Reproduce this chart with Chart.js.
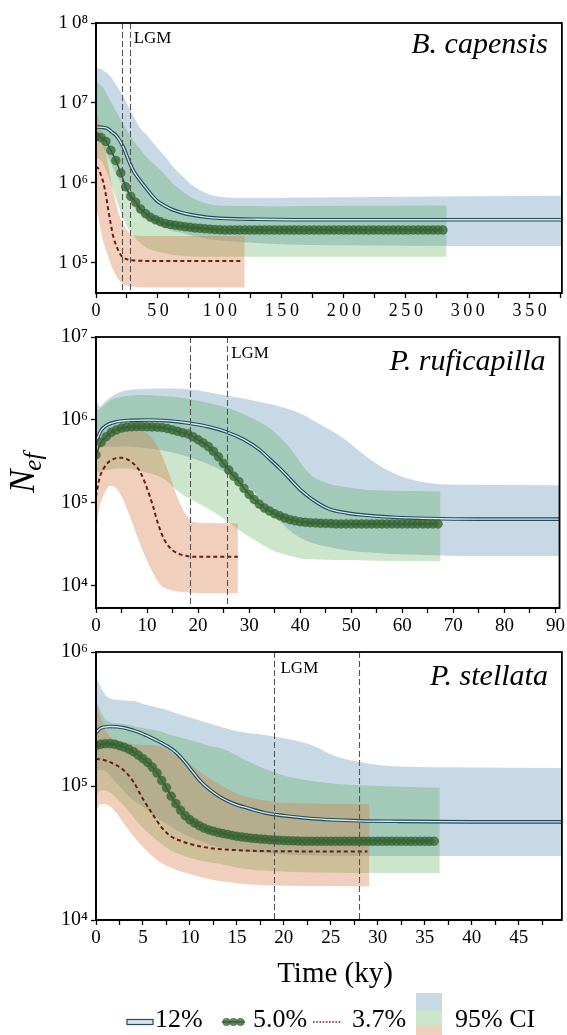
<!DOCTYPE html>
<html><head><meta charset="utf-8">
<script src="https://cdn.jsdelivr.net/npm/chart.js@4.4.1/dist/chart.umd.min.js"></script>
<style>
html,body{margin:0;padding:0;background:#fff;}
#wrap{position:relative;width:567px;height:1035px;overflow:hidden;background:#fff;}
canvas{position:absolute;left:0;top:0;}
</style></head><body>
<div id="wrap">
<canvas id="c1" width="567" height="1035" style="width:567px;height:1035px"></canvas>
<canvas id="c2" width="567" height="1035" style="width:567px;height:1035px"></canvas>
<canvas id="c3" width="567" height="1035" style="width:567px;height:1035px"></canvas>
</div>
<script>
// ---------------- DATA ----------------
// Panel 1: B. capensis (time in ky, Nef)
const p1T12 = [0,5,9,13,17,22,27,31,36,42,49,56,62,70,76,90,100,130,200,376];
const p1V12 = [5.0e6,4.95e6,4.8e6,4.3e6,3.8e6,2.8e6,1.8e6,1.35e6,1.05e6,8.0e5,6.0e5,5.1e5,4.6e5,4.2e5,4.0e5,3.7e5,3.6e5,3.5e5,3.45e5,3.45e5];
const p1T5 = [0,4,8,12,16,20,24,28,32,36,40,44,48,52,56,60,64,68,72,76,80,84,88,92,96,100,104,108,112,116,120,124,128,132,136,140,144,148,152,156,160,164,168,172,176,180,184,188,192,196,200,204,208,212,216,220,224,228,232,236,240,244,248,252,256,260,264,268,272,276,280];
const p1V5 = [3.8e6,3.7e6,3.3e6,2.55e6,1.9e6,1.33e6,8.9e5,6.8e5,5.7e5,4.7e5,4.1e5,3.7e5,3.45e5,3.25e5,3.1e5,3.0e5,2.95e5,2.88e5,2.82e5,2.77e5,2.72e5,2.7e5,2.66e5,2.63e5,2.6e5,2.58e5,
2.57e5,2.57e5,2.57e5,2.57e5,2.57e5,2.57e5,2.57e5,2.57e5,2.57e5,2.57e5,2.57e5,2.57e5,2.57e5,2.57e5,2.57e5,2.57e5,2.57e5,2.57e5,2.57e5,2.57e5,2.57e5,2.57e5,2.57e5,2.57e5,2.57e5,2.57e5,2.57e5,2.57e5,2.57e5,2.57e5,2.57e5,2.57e5,2.57e5,2.57e5,2.57e5,2.57e5,2.57e5,2.57e5,2.57e5,2.57e5,2.57e5,2.57e5,2.57e5,2.57e5,2.57e5];
const p1T37 = [0,2,4,6,8,10,12,14,17,20,24,30,50,117];
const p1V37 = [1.6e6,1.5e6,1.25e6,1.0e6,7.0e5,4.5e5,3.0e5,2.1e5,1.55e5,1.25e5,1.12e5,1.07e5,1.05e5,1.05e5];
const p1BlueT = [0,5,11,16,22,28,35,42,49,56,62,70,76,89,100,120,150,200,300,376];
const p1BlueHi = [2.8e7,2.6e7,2.2e7,1.7e7,1.2e7,8.0e6,5.0e6,3.8e6,2.8e6,2.1e6,1.6e6,1.2e6,9.8e5,7.4e5,6.7e5,6.5e5,6.5e5,6.6e5,6.8e5,6.9e5];
const p1BlueLo = [3.5e6,2.9e6,1.9e6,1.3e6,8.9e5,5.8e5,4.2e5,3.5e5,3.1e5,2.8e5,2.5e5,2.35e5,2.2e5,2.0e5,1.9e5,1.8e5,1.7e5,1.65e5,1.62e5,1.62e5];
const p1GreenT = [0,5,11,16,22,28,35,42,49,56,62,70,76,89,100,150,200,283];
const p1GreenHi = [1.9e7,1.6e7,1.1e7,8.0e6,5.5e6,3.8e6,2.7e6,2.0e6,1.6e6,1.25e6,9.8e5,7.8e5,6.7e5,5.5e5,5.2e5,5.1e5,5.15e5,5.2e5];
const p1GreenLo = [2.1e6,1.8e6,1.1e6,6.5e5,3.6e5,2.4e5,1.8e5,1.5e5,1.38e5,1.3e5,1.25e5,1.22e5,1.2e5,1.19e5,1.19e5,1.19e5,1.19e5,1.19e5];
const p1OrangeT = [0,3,6,9,12,15,18,22,26,30,40,60,120];
const p1OrangeHi = [8.5e6,5.5e6,3.4e6,2.0e6,1.1e6,6.5e5,4.3e5,3.0e5,2.45e5,2.2e5,2.16e5,2.16e5,2.16e5];
const p1OrangeLo = [5.0e5,3.0e5,1.8e5,1.3e5,9.5e4,7.5e4,6.2e4,5.4e4,5.1e4,5.0e4,4.9e4,4.9e4,4.9e4];
const p1Lgm = [21.2, 27.2];

// Panel 2: P. ruficapilla
const p2T12 = [0,1,2,4,7,10,14,18,22,25.5,29,32,34,36,38,40,42.4,45.6,49,52,58.7,65,75,91];
const p2V12 = [5.5e5,7.5e5,8.6e5,9.5e5,9.9e5,1.0e6,9.8e5,9.2e5,8.3e5,7.2e5,5.8e5,4.4e5,3.4e5,2.6e5,1.95e5,1.45e5,1.1e5,8.5e4,7.6e4,7.2e4,6.7e4,6.5e4,6.4e4,6.4e4];
const p2T5 = [0,1,2,3,4,5,6,7,8,9,10,11,12,13,14,15,16,17,18,19,20,21,22,23,24,25,26,27,28,29,30,31,32,33,34,35,36,37,38,39,40,41,42,43,44,45,46,47,48,49,50,51,52,53,54,55,56,57,58,59,60,61,62,63,64,65,66,67];
const p2V5 = [3.8e5,5.4e5,6.3e5,7.1e5,7.6e5,8.0e5,8.2e5,8.3e5,8.35e5,8.35e5,
8.3e5,8.25e5,8.2e5,8.1e5,7.9e5,7.6e5,7.3e5,7.0e5,6.8e5,6.3e5,
5.8e5,5.3e5,4.8e5,4.2e5,3.6e5,3.0e5,2.5e5,2.1e5,1.8e5,1.5e5,
1.27e5,1.1e5,9.7e4,8.7e4,8.0e4,7.4e4,7.0e4,6.6e4,6.3e4,6.1e4,
5.95e4,5.85e4,5.8e4,5.75e4,5.7e4,5.68e4,5.65e4,
5.6e4,5.6e4,5.6e4,5.6e4,5.6e4,5.6e4,5.6e4,5.6e4,5.6e4,5.6e4,5.6e4,5.6e4,5.6e4,5.6e4,5.6e4,5.6e4,5.6e4,5.6e4,5.6e4,5.6e4,5.6e4];
const p2T37 = [0,0.7,1.5,3,5,7,8.6,10,11.2,12.2,13.5,15,17,20,27.8];
const p2V37 = [1.2e5,2.0e5,2.6e5,3.3e5,3.5e5,3.1e5,2.4e5,1.5e5,9.0e4,5.5e4,3.5e4,2.7e4,2.35e4,2.25e4,2.25e4];
const p2BlueT = [0,0.8,1.5,3,5,8,12,18,25,31,36,40,43,46,49,53,57,62,66,72,91];
const p2BlueHi = [1.75e6,1.45e6,1.6e6,1.9e6,2.2e6,2.35e6,2.4e6,2.35e6,2.0e6,1.7e6,1.45e6,1.2e6,9.5e5,7.5e5,5.7e5,3.6e5,2.5e5,1.9e5,1.72e5,1.66e5,1.64e5];
const p2BlueLo = [4.5e5,4.6e5,4.7e5,4.75e5,4.8e5,4.7e5,4.4e5,3.6e5,2.4e5,1.35e5,6.0e4,3.8e4,3.2e4,2.9e4,2.7e4,2.55e4,2.45e4,2.4e4,2.35e4,2.3e4,2.3e4];
const p2GreenT = [0,1,3,6,9,13,17,19,22,25,28,31,34,36,38,40,42,45,49,55,67.5];
const p2GreenHi = [1.3e6,1.4e6,1.75e6,1.95e6,2.0e6,1.95e6,1.85e6,1.75e6,1.6e6,1.44e6,1.25e6,1.02e6,8.0e5,6.2e5,4.6e5,3.1e5,2.2e5,1.75e5,1.55e5,1.42e5,1.38e5];
const p2GreenLo = [2.3e5,2.4e5,2.55e5,2.6e5,2.4e5,2.0e5,1.25e5,1.08e5,8.5e4,6.5e4,4.7e4,3.6e4,2.8e4,2.5e4,2.3e4,2.15e4,2.1e4,2.07e4,2.05e4,2.02e4,2.0e4];
const p2OrangeT = [0,0.7,1.5,2.7,4,5.3,7,9,11,12.5,14.5,16.4,18.4,20.3,27.8];
const p2OrangeHi = [4.4e5,5.5e5,6.5e5,7.6e5,8.3e5,8.7e5,8.5e5,7.7e5,6.0e5,4.3e5,2.1e5,1.0e5,6.3e4,5.8e4,5.7e4];
const p2OrangeLo = [4.5e4,9.0e4,1.25e5,1.6e5,1.5e5,1.1e5,6.0e4,2.8e4,1.5e4,1.05e4,9.0e3,8.5e3,8.3e3,8.2e3,8.2e3];
const p2Lgm = [18.5, 25.7];

// Panel 3: P. stellata
const p3T12 = [0,0.5,1.5,3,4,5,6.4,7.5,8.6,9.5,10.4,11.2,12.1,13.3,14.6,16.3,18,20,22.5,25,28,32,40,49.6];
const p3V12 = [2.5e5,2.7e5,2.78e5,2.72e5,2.6e5,2.45e5,2.2e5,2.0e5,1.76e5,1.5e5,1.25e5,1.07e5,9.4e4,8.2e4,7.4e4,6.8e4,6.3e4,6.0e4,5.75e4,5.6e4,5.5e4,5.45e4,5.4e4,5.4e4];
const p3T5 = [0,0.5,1,1.5,2,2.5,3,3.5,4,4.5,5,5.5,6,6.5,7,7.5,8,8.5,9,9.5,10,10.5,11,11.5,12,12.5,13,13.5,14,14.5,15,15.5,16,16.5,17,17.5,18,18.5,19,19.5,20,20.5,21,21.5,22,22.5,23,23.5,24,24.5,25,25.5,26,26.5,27,27.5,28,28.5,29,29.5,30,30.5,31,31.5,32,32.5,33,33.5,34,34.5,35,35.5,36];
const p3V5 = [2.0e5,2.05e5,2.07e5,2.07e5,2.05e5,2.0e5,1.95e5,1.88e5,1.8e5,1.7e5,
1.6e5,1.5e5,1.38e5,1.25e5,1.1e5,9.7e4,8.4e4,7.4e4,6.6e4,6.0e4,
5.6e4,5.3e4,5.05e4,4.85e4,4.7e4,4.6e4,4.5e4,4.42e4,4.35e4,4.28e4,
4.22e4,4.17e4,4.12e4,4.08e4,4.05e4,4.02e4,4.0e4,3.97e4,3.95e4,3.93e4,
3.92e4,3.9e4,3.9e4,3.88e4,
3.87e4,3.87e4,3.87e4,3.87e4,3.87e4,3.87e4,3.87e4,3.87e4,3.87e4,3.87e4,3.87e4,3.87e4,3.87e4,3.87e4,3.87e4,3.87e4,3.87e4,3.87e4,3.87e4,3.87e4,3.87e4,3.87e4,3.87e4,3.87e4,3.87e4,3.87e4,3.87e4,3.87e4,3.87e4];
const p3T37 = [0,1,2,3,4,5,6,7,8,9,10,12,15,18,22,28.9];
const p3V37 = [1.6e5,1.55e5,1.45e5,1.3e5,1.07e5,8.0e4,6.2e4,4.9e4,4.2e4,3.9e4,3.7e4,3.45e4,3.32e4,3.27e4,3.25e4,3.24e4];
const p3BlueT = [0,0.5,1.1,2.2,4,5,6.5,7.5,9,11,13,14.6,17,19.6,21,23.1,25.6,28.4,31.3,37.3,49.6];
const p3BlueHi = [6.6e5,5.5e5,4.7e5,4.4e5,4.3e5,4.1e5,3.85e5,3.7e5,3.4e5,3.1e5,2.8e5,2.6e5,2.45e5,2.3e5,2.2e5,2.0e5,1.66e5,1.5e5,1.41e5,1.38e5,1.36e5];
const p3BlueLo = [1.3e5,1.32e5,1.28e5,1.05e5,7.8e4,7.0e4,5.8e4,5.2e4,4.5e4,3.9e4,3.5e4,3.35e4,3.2e4,3.1e4,3.05e4,3.03e4,3.0e4,3.0e4,3.0e4,3.0e4,3.0e4];
const p3GreenT = [0,0.5,1.1,2.9,4.5,6.5,8,10,12,13.5,16,18.5,21,24.9,30.2,36.6];
const p3GreenHi = [4.4e5,3.6e5,3.1e5,2.9e5,2.75e5,2.6e5,2.4e5,2.2e5,2.0e5,1.9e5,1.55e5,1.3e5,1.15e5,1.05e5,1.0e5,9.7e4];
const p3GreenLo = [8.5e4,9.3e4,9.2e4,7.2e4,5.3e4,3.9e4,3.3e4,2.9e4,2.7e4,2.6e4,2.4e4,2.32e4,2.28e4,2.25e4,2.24e4,2.24e4];
const p3OrangeT = [0,0.5,1,2,3,4,5,6.5,8,10,12,14,16,18,20,29.1];
const p3OrangeHi = [4.2e5,3.2e5,2.6e5,2.2e5,2.1e5,2.05e5,2.02e5,2.0e5,1.8e5,1.45e5,1.15e5,9.5e4,8.3e4,7.8e4,7.5e4,7.3e4];
const p3OrangeLo = [6.5e4,7.3e4,7.3e4,6.5e4,5.2e4,4.2e4,3.5e4,2.8e4,2.45e4,2.2e4,2.02e4,1.92e4,1.85e4,1.82e4,1.8e4,1.78e4];
const p3Lgm = [19.0, 28.0];

const speciesNames = ['B. capensis', 'P. ruficapilla', 'P. stellata'];
const legendLabels = ['12%', '5.0%', '3.7%', '95% CI'];

// ---------------- STYLE ----------------
const SERIF = '"Liberation Serif", "Times New Roman", serif';
const C_BLUE = 'rgba(72,128,172,0.30)';
const C_GREEN = 'rgba(59,159,59,0.26)';
const C_ORANGE = 'rgba(212,121,64,0.35)';
const C_LINE12_OUT = '#1f4b5a';
const C_LINE12_IN = '#d8e7ef';
const C_DOT_FILL = 'rgba(56,102,53,0.80)';
const C_DOT_EDGE = 'rgba(40,80,40,0.45)';
const C_DASH = '#6e1c17';
const SUP = {'3':'³','4':'⁴','5':'⁵','6':'⁶','7':'⁷','8':'⁸'};

const pts = (t, v) => t.map((x, i) => ({x: x, y: v[i]}));

function band(t, lo, hi, color, order) {
  return [
    {data: pts(t, lo), borderWidth: 0, pointRadius: 0, fill: false, order: order, cubicInterpolationMode: 'monotone'},
    {data: pts(t, hi), borderWidth: 0, pointRadius: 0, fill: '-1', backgroundColor: color, order: order, cubicInterpolationMode: 'monotone'}
  ];
}
function dbl(t, v) {
  return [
    {data: pts(t, v), borderColor: C_LINE12_OUT, borderWidth: 3.6, pointRadius: 0, fill: false, order: 31, cubicInterpolationMode: 'monotone'},
    {data: pts(t, v), borderColor: C_LINE12_IN, borderWidth: 1.3, pointRadius: 0, fill: false, order: 30, cubicInterpolationMode: 'monotone'}
  ];
}
function dots(t, v) {
  return {data: pts(t, v), borderColor: '#2d5a2d', borderWidth: 1.5, pointRadius: 4.5,
    pointBackgroundColor: C_DOT_FILL, pointBorderColor: C_DOT_EDGE, pointBorderWidth: 0.6,
    fill: false, order: 20, tension: 0.2};
}
function dash(t, v) {
  return {data: pts(t, v), borderColor: C_DASH, borderWidth: 2, borderDash: [4, 3], pointRadius: 0,
    fill: false, order: 10, cubicInterpolationMode: 'monotone'};
}

const deco = {
  id: 'deco',
  afterDatasetsDraw(chart, args, o) {
    const ctx = chart.ctx, a = chart.chartArea, x = chart.scales.x;
    ctx.save();
    ctx.beginPath(); ctx.rect(a.left, a.top, a.right - a.left, a.bottom - a.top); ctx.clip();
    ctx.strokeStyle = '#555'; ctx.lineWidth = 1.1; ctx.setLineDash([6, 3]);
    o.lgm.forEach(t => {
      const px = Math.round(x.getPixelForValue(t)) + 0.5;
      ctx.beginPath(); ctx.moveTo(px, a.top); ctx.lineTo(px, a.bottom); ctx.stroke();
    });
    ctx.setLineDash([]);
    ctx.fillStyle = '#000';
    ctx.font = '17px ' + SERIF; ctx.textAlign = 'left'; ctx.textBaseline = 'alphabetic';
    ctx.fillText('LGM', x.getPixelForValue(o.lgm[o.lgmIdx]) + o.lgmDx, a.top + o.lgmDy);
    ctx.font = 'italic 30px ' + SERIF; ctx.textAlign = 'right';
    ctx.fillText(o.species, a.right - 14, a.top + o.spDy);
    ctx.restore();
    ctx.save();
    ctx.strokeStyle = '#000'; ctx.lineWidth = 1.8;
    ctx.strokeRect(a.left, a.top, a.right - a.left, a.bottom - a.top);
    ctx.restore();
  }
};

const page = {
  id: 'page',
  afterDraw(chart) {
    const ctx = chart.ctx;
    ctx.save();
    ctx.fillStyle = '#000'; ctx.textBaseline = 'alphabetic';
    // x-axis title
    ctx.font = '29px ' + SERIF; ctx.textAlign = 'center';
    ctx.fillText('Time (ky)', 335, 982);
    // y-axis title N_ef
    ctx.save();
    ctx.translate(34, 493); ctx.rotate(-Math.PI / 2);
    ctx.textAlign = 'left';
    ctx.font = 'italic 35px ' + SERIF;
    ctx.fillText('N', 0, 0);
    const nw = ctx.measureText('N').width;
    ctx.font = 'italic 25px ' + SERIF;
    ctx.fillText('ef', nw - 1, 7);
    ctx.restore();
    // legend symbols
    const ly = 1022;
    ctx.fillStyle = C_LINE12_IN; ctx.strokeStyle = C_LINE12_OUT; ctx.lineWidth = 1.2;
    ctx.fillRect(127, ly - 2.5, 26, 5); ctx.strokeRect(127, ly - 2.5, 26, 5);
    ctx.strokeStyle = '#2d5a2d'; ctx.lineWidth = 1.5;
    ctx.beginPath(); ctx.moveTo(222, ly); ctx.lineTo(245, ly); ctx.stroke();
    [226.5, 233.5, 240.5].forEach(cx => {
      ctx.beginPath(); ctx.arc(cx, ly, 3.8, 0, Math.PI * 2);
      ctx.fillStyle = C_DOT_FILL; ctx.fill();
      ctx.strokeStyle = C_DOT_EDGE; ctx.lineWidth = 0.8; ctx.stroke();
    });
    ctx.strokeStyle = C_DASH; ctx.lineWidth = 1.6; ctx.setLineDash([1.6, 1.6]);
    ctx.beginPath(); ctx.moveTo(313, ly); ctx.lineTo(342, ly); ctx.stroke();
    ctx.setLineDash([]);
    ctx.fillStyle = '#c8d9e6'; ctx.fillRect(416, 993, 26, 17);
    ctx.fillStyle = '#cce6cc'; ctx.fillRect(416, 1010, 26, 15);
    ctx.fillStyle = '#f0d0bc'; ctx.fillRect(416, 1025, 26, 10);
    // legend labels
    ctx.fillStyle = '#000'; ctx.font = '26px ' + SERIF; ctx.textAlign = 'left';
    ctx.fillText(legendLabels[0], 155, 1027);
    ctx.fillText(legendLabels[1], 253, 1027);
    ctx.fillText(legendLabels[2], 352, 1027);
    ctx.fillText(legendLabels[3], 455, 1027);
    ctx.restore();
  }
};

function makePanel(id, P) {
  const near = (v, s) => Math.abs(v / s - Math.round(v / s)) < 1e-6;
  const spacedStr = (s) => P.spaced ? s.split('').join('\u2009') : s;
  const plugins = [deco];
  if (P.page) plugins.push(page);
  return new Chart(document.getElementById(id), {
    type: 'line',
    data: {datasets: P.datasets},
    plugins: plugins,
    options: {
      responsive: false, animation: false, events: [],
      layout: {padding: {left: 0, right: 5, top: P.top, bottom: 0}},
      plugins: {
        legend: {display: false}, tooltip: {enabled: false},
        deco: {lgm: P.lgm, lgmIdx: P.lgmIdx, lgmDx: P.lgmDx, lgmDy: P.lgmDy, species: P.species, spDy: P.spDy}
      },
      scales: {
        x: {
          type: 'linear', min: 0, max: P.xMax,
          afterFit: s => { s.height = 1035 - P.bottom; },
          ticks: {stepSize: P.xStep, includeBounds: false, autoSkip: false, maxRotation: 0, minRotation: 0,
            color: '#000', font: {family: SERIF, size: P.fsx}, padding: 2,
            callback: v => near(v, P.xLab) ? spacedStr(String(v)) : ''},
          grid: {drawOnChartArea: false, drawTicks: true, tickLength: 5, tickColor: '#000', tickWidth: 1.3},
          border: {display: true, color: '#000', width: 1.8}
        },
        y: {
          type: 'logarithmic', min: P.yMin, max: P.yMax,
          afterFit: s => { s.width = 96; },
          afterBuildTicks: s => { s.ticks = P.decades.map(v => ({value: v})); },
          ticks: {autoSkip: false, color: '#000', font: {family: SERIF, size: P.fsy}, padding: 3,
            callback: v => spacedStr('10') + SUP[String(Math.round(Math.log10(v)))]},
          grid: {drawOnChartArea: false, drawTicks: true, tickLength: 5, tickColor: '#000', tickWidth: 1.3},
          border: {display: true, color: '#000', width: 1.8}
        }
      }
    }
  });
}

makePanel('c1', {
  top: 23, bottom: 293, xMax: 376, xStep: 25, xLab: 50, yMin: 41800, yMax: 1e8,
  decades: [1e5, 1e6, 1e7, 1e8], fsx: 18, fsy: 19, spaced: true,
  lgm: p1Lgm, lgmIdx: 1, lgmDx: 4, lgmDy: 20, species: speciesNames[0], spDy: 30,
  datasets: [].concat(
    band(p1BlueT, p1BlueLo, p1BlueHi, C_BLUE, 100),
    band(p1GreenT, p1GreenLo, p1GreenHi, C_GREEN, 90),
    band(p1OrangeT, p1OrangeLo, p1OrangeHi, C_ORANGE, 80),
    dbl(p1T12, p1V12), [dots(p1T5, p1V5)], [dash(p1T37, p1V37)])
});
makePanel('c2', {
  top: 337, bottom: 608, xMax: 90.8, xStep: 5, xLab: 10, yMin: 5430, yMax: 1e7,
  decades: [1e4, 1e5, 1e6, 1e7], fsx: 19, fsy: 20, spaced: false,
  lgm: p2Lgm, lgmIdx: 1, lgmDx: 4, lgmDy: 21, species: speciesNames[1], spDy: 33,
  datasets: [].concat(
    band(p2BlueT, p2BlueLo, p2BlueHi, C_BLUE, 100),
    band(p2GreenT, p2GreenLo, p2GreenHi, C_GREEN, 90),
    band(p2OrangeT, p2OrangeLo, p2OrangeHi, C_ORANGE, 80),
    dbl(p2T12, p2V12), [dots(p2T5, p2V5)], [dash(p2T37, p2V37)])
});
makePanel('c3', {
  top: 652, bottom: 920, xMax: 49.6, xStep: 2.5, xLab: 5, yMin: 1e4, yMax: 1e6,
  decades: [1e4, 1e5, 1e6], fsx: 19, fsy: 20, spaced: false, page: true,
  lgm: p3Lgm, lgmIdx: 0, lgmDx: 6, lgmDy: 21, species: speciesNames[2], spDy: 33,
  datasets: [].concat(
    band(p3BlueT, p3BlueLo, p3BlueHi, C_BLUE, 100),
    band(p3GreenT, p3GreenLo, p3GreenHi, C_GREEN, 90),
    band(p3OrangeT, p3OrangeLo, p3OrangeHi, C_ORANGE, 80),
    dbl(p3T12, p3V12), [dots(p3T5, p3V5)], [dash(p3T37, p3V37)])
});
</script>
</body></html>
